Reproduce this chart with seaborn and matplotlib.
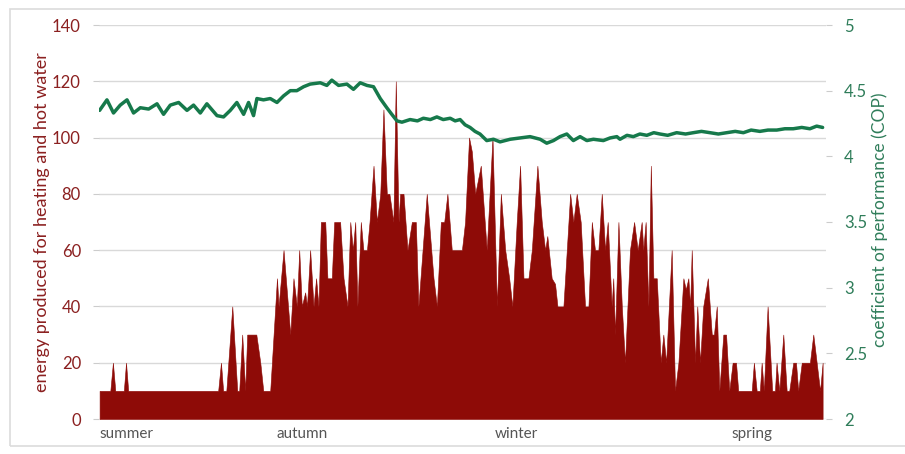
import matplotlib
matplotlib.use("Agg")
import matplotlib.pyplot as plt
import seaborn as sns
import pandas as pd
from matplotlib.patches import Rectangle

# ---- data ----
energy_day = [0, 5.4, 6.7, 7.9, 12.2, 13.3, 14.4, 59.7, 61.1, 62.2, 63.8, 66.8, 69.3, 70.3, 71.8,
              73.3, 74.3, 78.9, 80.9, 82.4, 85.9, 89.3, 90.1, 92.6, 96.0, 97.6, 99.3, 100.5, 101.8,
              103.5, 104.4, 106.0, 107.7, 109.0, 110.2, 111.4, 113.6, 114.7, 116.9, 118.1, 121.1,
              122.8, 124.8, 126.2, 127.5, 128.7, 129.8, 131.5, 132.8, 134.6, 135.9, 137.9, 139.6,
              141.3, 142.9, 144.6, 145.9, 147.9, 149.1, 150.5, 151.3, 153.0, 155.0, 157.2, 159.2,
              160.5, 164.7, 168.1, 169.8, 171.8, 173.5, 175.1, 177.3, 182.4, 184.0, 186.0, 187.4,
              189.1, 191.9, 194.9, 197.8, 200.0, 202.0, 204.2, 206.2, 207.8, 210.0, 211.7, 213.4,
              215.9, 217.6, 220.4, 222.6, 224.3, 225.4, 227.6, 229.3, 230.5, 233.5, 236.9, 238.5,
              240.2, 242.2, 244.4, 246.1, 247.8, 249.4, 251.1, 252.8, 254.5, 255.8, 257.8, 258.6,
              259.5, 261.2, 262.9, 264.5, 267.0, 269.1, 270.9, 272.9, 273.7, 274.9, 276.3, 277.5,
              278.8, 280.5, 282.5, 283.8, 285.2, 288.0, 289.7, 291.4, 293.9, 295.1, 296.4, 297.3,
              298.1, 299.8, 300.9, 302.3, 303.9, 306.2, 308.2, 309.3, 310.7, 312.0, 314.0, 315.4,
              317.0, 318.7, 320.4, 321.5, 328.3, 329.4, 330.8, 332.4, 333.3, 334.4, 336.3, 338.6,
              340.0, 340.8, 342.2, 344.2, 345.9, 347.2, 349.2, 350.6, 351.7, 353.5, 357.6, 359.3,
              361.0, 362.7, 364.0]
energy_kwh = [10, 10, 20, 10, 10, 20, 10, 10, 20, 10, 10, 40, 10, 10, 30,
              10, 30, 30, 20, 10, 10, 50, 40, 60, 30, 50, 40, 60, 40,
              45, 40, 60, 40, 50, 40, 70, 70, 50, 50, 70, 70,
              50, 40, 70, 60, 70, 40, 70, 60, 60, 70, 90, 70,
              80, 110, 80, 80, 70, 120, 70, 80, 80, 60, 70, 70,
              40, 80, 50, 40, 70, 70, 80, 60, 60, 70, 100, 95,
              80, 90, 60, 100, 40, 80, 60, 50, 40, 70, 90, 50,
              50, 60, 90, 70, 60, 65, 50, 48, 40, 40, 80, 70,
              80, 70, 40, 40, 70, 60, 60, 80, 60, 70, 40, 50,
              30, 70, 40, 20, 60, 70, 60, 70, 60, 70, 40, 90,
              50, 50, 20, 30, 20, 60, 10, 20, 50, 46, 50, 40,
              60, 20, 40, 20, 40, 50, 30, 30, 40, 10, 30, 30,
              10, 20, 20, 10, 10, 20, 10, 10, 20, 10, 40, 10,
              10, 20, 10, 30, 10, 10, 20, 20, 10, 20, 20, 30,
              20, 10, 20]

cop_day = [0, 3.7, 7.0, 10.4, 13.8, 17.1, 20.5, 24.7, 28.9, 32.2, 35.6, 39.8, 44.0, 47.3, 50.7,
           54.0, 59.1, 62.4, 65.8, 69.1, 72.5, 75.0, 77.5, 79.2, 82.5, 85.9, 89.3, 92.6, 96.0,
           99.3, 102.7, 106.0, 111.1, 114.4, 116.9, 120.3, 124.5, 127.8, 131.2, 134.6, 137.9,
           141.3, 144.6, 147.1, 149.7, 152.2, 156.3, 160.0, 163.0, 166.5, 169.8, 173.0, 176.5,
           179.0, 181.5, 184.0, 186.5, 189.0, 191.5,
           194.9, 198.3, 201.6, 206.7, 211.7, 216.7, 221.8, 225.1, 228.5, 231.8, 235.2, 238.5,
           241.9, 245.3, 248.6, 253.6, 257.0, 260.4, 262.0, 265.5, 268.7, 272.0, 275.5, 279.0,
           282.1, 286.0, 290.5, 295.0, 298.9, 303.0, 307.3, 311.5, 315.7, 320.0, 324.1, 328.0,
           332.4, 336.5, 340.9, 345.0, 349.2, 353.5, 357.6, 361.0, 364.0]
cop_value = [4.35, 4.43, 4.33, 4.39, 4.43, 4.33, 4.37, 4.36, 4.40, 4.32, 4.39, 4.41, 4.35, 4.39, 4.33,
             4.40, 4.31, 4.30, 4.35, 4.41, 4.32, 4.41, 4.31, 4.44, 4.43, 4.44, 4.41, 4.46, 4.50,
             4.50, 4.53, 4.55, 4.56, 4.54, 4.58, 4.54, 4.55, 4.51, 4.56, 4.54, 4.53,
             4.44, 4.37, 4.32, 4.27, 4.26, 4.28, 4.27, 4.29, 4.28, 4.30, 4.28, 4.29,
             4.27, 4.28, 4.24, 4.22, 4.19, 4.17,
             4.12, 4.13, 4.11, 4.13, 4.14, 4.15, 4.13, 4.10, 4.12, 4.15, 4.17, 4.12,
             4.15, 4.12, 4.13, 4.12, 4.14, 4.15, 4.13, 4.16, 4.15, 4.17, 4.16, 4.18,
             4.17, 4.16, 4.18, 4.17, 4.18, 4.19, 4.18, 4.17, 4.18, 4.19, 4.18, 4.20,
             4.19, 4.20, 4.20, 4.21, 4.21, 4.22, 4.21, 4.23, 4.22]

season_labels = ["summer", "autumn", "winter", "spring"]
season_day = [0, 89, 199, 318]
energy_ticks = [0, 20, 40, 60, 80, 100, 120, 140]
cop_ticks = [2, 2.5, 3, 3.5, 4, 4.5, 5]
cop_tick_labels = ["2", "2.5", "3", "3.5", "4", "4.5", "5"]

RED = "#8e0b07"
GREEN = "#16794b"
LRED = "#8b2020"
LGREEN = "#2f7d5a"

sns.set_theme(style="white")
plt.rcParams["font.family"] = ["Lato", "DejaVu Sans"]

fig = plt.figure(figsize=(9.05, 4.54), dpi=100)
fig.patches.append(Rectangle((10 / 905, 1 - 446 / 454), 0.999, 437 / 454,
                             transform=fig.transFigure, fill=False,
                             edgecolor="#dcdcdc", lw=1.2, zorder=0))

ax = fig.add_axes([99 / 905, 1 - 419 / 454, 727 / 905, 394 / 454])
ax.set_facecolor("none")

df_e = pd.DataFrame({"day": energy_day, "kwh": energy_kwh})
ax.fill_between(df_e["day"], df_e["kwh"], 0, color=RED, lw=0.4, edgecolor=RED, zorder=2)

ax.set_xlim(-0.3, 365.7)
ax.set_ylim(0, 140)
ax.set_yticks(energy_ticks)
ax.set_yticklabels([str(t) for t in energy_ticks], color=LRED, fontsize=12)
ax.yaxis.grid(True, color="#d9d9d9", lw=1)
ax.xaxis.grid(False)
ax.set_axisbelow(True)
for s in ax.spines.values():
    s.set_visible(False)
ax.tick_params(axis="y", left=True, length=4, width=0.8, color="#cccccc", pad=9)
ax.set_xticks(season_day)
ax.set_xticklabels(season_labels, ha="left", color="#555555", fontsize=11)
ax.tick_params(axis="x", bottom=False, length=0, pad=6)
ax.set_ylabel("energy produced for heating and hot water", color=LRED, fontsize=13)
ax.yaxis.set_label_coords(-0.068, 0.5)
ax.set_xlabel("")

ax2 = ax.twinx()
df_c = pd.DataFrame({"day": cop_day, "cop": cop_value})
sns.lineplot(data=df_c, x="day", y="cop", ax=ax2, color=GREEN, lw=2.5, zorder=3)
ax2.set_ylim(2, 5)
ax2.set_yticks(cop_ticks)
ax2.set_yticklabels(cop_tick_labels, color=LGREEN, fontsize=12)
ax2.tick_params(axis="y", right=True, length=4, width=0.8, color="#cccccc", pad=9)
for s in ax2.spines.values():
    s.set_visible(False)
ax2.grid(False)
ax2.set_ylabel("coefficient of performance (COP)", color=LGREEN, fontsize=12.5)
ax2.yaxis.set_label_coords(1.062, 0.505)
ax2.set_xlabel("")
ax2.set_xlim(-0.3, 365.7)

fig.savefig("out.png", dpi=100)
